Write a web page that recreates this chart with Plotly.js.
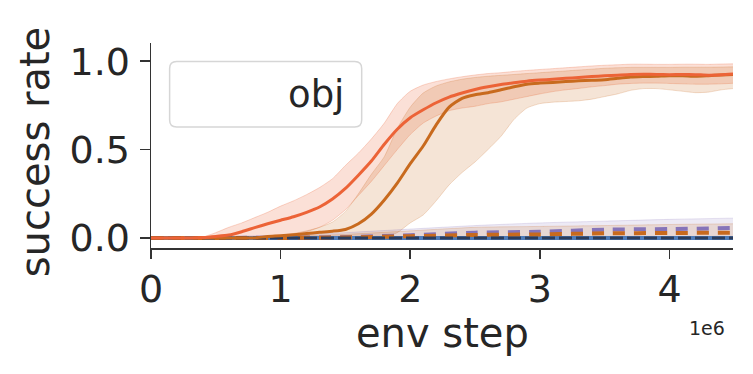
<!DOCTYPE html>
<html>
<head>
<meta charset="utf-8">
<script src="https://cdn.plot.ly/plotly-3.0.1.min.js"></script>
<style>
  body { margin: 0; background: #fff; }
  #chart { width: 753px; height: 374px; }
</style>
</head>
<body>
<div id="chart"></div>
<script>
// env steps in units of 1e6
const steps = [0, 0.1, 0.2, 0.3, 0.4, 0.5, 0.6, 0.7, 0.8, 0.9,
    1.0, 1.1, 1.2, 1.3, 1.4, 1.5, 1.6, 1.7, 1.8, 1.9,
    2.0, 2.1, 2.2, 2.3, 2.4, 2.5, 2.6, 2.7, 2.8, 2.9,
    3.0, 3.1, 3.2, 3.3, 3.4, 3.5, 3.6, 3.7, 3.8, 3.9,
    4.0, 4.1, 4.2, 4.3, 4.4, 4.49];

const redMean = [0, 0, 0, 0, 0.002, 0.008, 0.016, 0.035, 0.058, 0.08,
    0.1, 0.12, 0.145, 0.175, 0.22, 0.28, 0.355, 0.435, 0.53, 0.615,
    0.68, 0.725, 0.765, 0.797, 0.82, 0.84, 0.855, 0.868, 0.878, 0.887,
    0.893, 0.898, 0.903, 0.908, 0.913, 0.917, 0.921, 0.925, 0.926, 0.925,
    0.924, 0.925, 0.924, 0.921, 0.923, 0.927];
const redUpper = [0, 0, 0, 0, 0.005, 0.03, 0.06, 0.085, 0.115, 0.145,
    0.18, 0.21, 0.245, 0.285, 0.335, 0.41, 0.48, 0.56, 0.65, 0.76,
    0.83, 0.865, 0.885, 0.9, 0.912, 0.922, 0.93, 0.935, 0.942, 0.948,
    0.953, 0.958, 0.963, 0.968, 0.973, 0.977, 0.98, 0.983, 0.983, 0.982,
    0.982, 0.983, 0.983, 0.982, 0.984, 0.985];
const redLower = [0, 0, 0, 0, 0, 0, 0, 0, 0, 0,
    0.005, 0.02, 0.035, 0.06, 0.1, 0.16, 0.24, 0.32, 0.41, 0.5,
    0.585, 0.65, 0.69, 0.72, 0.735, 0.745, 0.76, 0.77, 0.785, 0.8,
    0.815, 0.828, 0.838, 0.846, 0.855, 0.862, 0.87, 0.874, 0.876, 0.876,
    0.874, 0.872, 0.87, 0.87, 0.872, 0.875];

const orangeMean = [0, 0, 0, 0, 0, 0, 0, 0, 0, 0.008,
    0.012, 0.018, 0.025, 0.032, 0.038, 0.048, 0.08, 0.135, 0.215, 0.31,
    0.42, 0.52, 0.64, 0.74, 0.79, 0.81, 0.822, 0.838, 0.855, 0.87,
    0.876, 0.88, 0.885, 0.889, 0.892, 0.895, 0.903, 0.91, 0.913, 0.915,
    0.918, 0.918, 0.915, 0.918, 0.922, 0.925];
const orangeUpper = [0, 0, 0, 0, 0, 0, 0, 0, 0.003, 0.008,
    0.015, 0.025, 0.04, 0.06, 0.09, 0.15, 0.25, 0.36, 0.46, 0.62,
    0.74, 0.82, 0.86, 0.883, 0.898, 0.908, 0.915, 0.92, 0.925, 0.93,
    0.935, 0.94, 0.945, 0.95, 0.955, 0.96, 0.963, 0.965, 0.965, 0.965,
    0.965, 0.966, 0.966, 0.966, 0.967, 0.968];
const orangeLower = [0, 0, 0, 0, 0, 0, 0, 0, 0, 0,
    0, 0, 0, 0, 0, 0, 0, 0, 0.005, 0.03,
    0.085, 0.13, 0.21, 0.3, 0.37, 0.43, 0.5, 0.575, 0.67, 0.735,
    0.76, 0.768, 0.772, 0.776, 0.785, 0.8, 0.815, 0.835, 0.845, 0.845,
    0.838, 0.83, 0.822, 0.825, 0.838, 0.845];

const dashSteps = [0, 0.5, 1.0, 1.5, 2.0, 2.5, 3.0, 3.5, 4.0, 4.49];
const purpleMean = [0, 0, 0.001, 0.005, 0.015, 0.03, 0.035, 0.047, 0.05, 0.056];
const purpleUpper = [0.005, 0.008, 0.015, 0.03, 0.05, 0.07, 0.085, 0.095, 0.105, 0.112];
const purpleLower = [0, 0, 0, 0, 0, 0, 0, 0.003, 0.005, 0.005];
const oDashMean = [0, 0, 0, 0.003, 0.01, 0.017, 0.02, 0.026, 0.028, 0.03];
const oDashUpper = [0.003, 0.005, 0.01, 0.02, 0.04, 0.06, 0.065, 0.07, 0.076, 0.08];
const oDashLower = [0, 0, 0, 0, 0, 0, 0, 0, 0, 0];

const flatSteps = [0, 4.49];
const blueMean = [0, 0];
const navyMean = [0, 0];

const RED = '#ec6337';
const ORANGE = '#c86a1e';
const PURPLE = '#8674b9';
const BLUE = '#4f7cb9';
const NAVY = '#2c3d5c';

function band(x, lo, hi, fillcolor, edge) {
    const lower = {
        x: x, y: lo, type: 'scatter', mode: 'lines',
        line: { color: edge, width: 1, shape: 'spline', smoothing: 0.6 },
        hoverinfo: 'skip', showlegend: false,
    };
    const upper = {
        x: x, y: hi, type: 'scatter', mode: 'lines',
        fill: 'tonexty', fillcolor: fillcolor,
        line: { color: edge, width: 1, shape: 'spline', smoothing: 0.6 },
        hoverinfo: 'skip', showlegend: false,
    };
    return [lower, upper];
}

function line(x, y, color, width, dash) {
    return {
        x: x, y: y, type: 'scatter', mode: 'lines',
        line: { color: color, width: width, dash: dash || 'solid', shape: 'spline', smoothing: 0.6 },
        showlegend: false,
    };
}

const traces = [
    ...band(steps, redLower, redUpper, 'rgba(236,99,55,0.2)', 'rgba(236,99,55,0.25)'),
    ...band(steps, orangeLower, orangeUpper, 'rgba(200,106,30,0.18)', 'rgba(200,106,30,0.22)'),
    ...band(dashSteps, purpleLower, purpleUpper, 'rgba(134,116,185,0.15)', 'rgba(134,116,185,0.2)'),
    ...band(dashSteps, oDashLower, oDashUpper, 'rgba(200,106,30,0.15)', 'rgba(200,106,30,0.2)'),
    line(flatSteps, blueMean, BLUE, 4),
    line(dashSteps, purpleMean, PURPLE, 4, '12px,9px'),
    line(dashSteps, oDashMean, ORANGE, 4, '12px,9px'),
    line(flatSteps, navyMean, NAVY, 3, '13px,4px'),
    line(steps, orangeMean, ORANGE, 3),
    line(steps, redMean, RED, 3),
];

// rounded legend frame (paper coords)
const lx0 = 0.032, lx1 = 0.362, ly0 = 0.59, ly1 = 0.91, rx = 0.012, ry = 0.034;
const legendPath = 'M' + (lx0 + rx) + ',' + ly1 + ' L' + (lx1 - rx) + ',' + ly1 +
    ' Q' + lx1 + ',' + ly1 + ' ' + lx1 + ',' + (ly1 - ry) +
    ' L' + lx1 + ',' + (ly0 + ry) + ' Q' + lx1 + ',' + ly0 + ' ' + (lx1 - rx) + ',' + ly0 +
    ' L' + (lx0 + rx) + ',' + ly0 + ' Q' + lx0 + ',' + ly0 + ' ' + lx0 + ',' + (ly0 + ry) +
    ' L' + lx0 + ',' + (ly1 - ry) + ' Q' + lx0 + ',' + ly1 + ' ' + (lx0 + rx) + ',' + ly1 + ' Z';

const TXT = '#262626';
const FONT = 'DejaVu Sans';

const layout = {
    width: 753,
    height: 374,
    margin: { l: 151, r: 20, t: 43, b: 126 },
    paper_bgcolor: '#fff',
    plot_bgcolor: '#fff',
    font: { family: FONT, color: TXT },
    showlegend: false,
    xaxis: {
        range: [0, 4.49],
        tickvals: [0, 1, 2, 3, 4],
        ticktext: ['0', '1', '2', '3', '4'],
        ticks: 'outside', ticklen: 9, tickwidth: 1.5, tickcolor: '#333',
        ticklabelstandoff: -2,
        showline: true, linecolor: '#333', linewidth: 1.5,
        showgrid: false, zeroline: false,
        tickfont: { size: 38, family: FONT, color: TXT },
    },
    yaxis: {
        range: [-0.057, 1.103],
        tickvals: [0, 0.5, 1.0],
        ticktext: ['0.0', '0.5', '1.0'],
        ticks: 'outside', ticklen: 10, tickwidth: 1.5, tickcolor: '#333',
        ticklabelstandoff: 2,
        showline: true, linecolor: '#333', linewidth: 1.5,
        showgrid: false, zeroline: false,
        tickfont: { size: 38, family: FONT, color: TXT },
    },
    shapes: [{
        type: 'path', xref: 'paper', yref: 'paper', path: legendPath,
        line: { color: '#d6d6d6', width: 1.5 }, fillcolor: 'rgba(255,255,255,0.8)', layer: 'above',
    }],
    annotations: [
        {
            text: 'env step', xref: 'paper', yref: 'paper', x: 0.5, y: -0.415,
            xanchor: 'center', yanchor: 'middle', showarrow: false,
            font: { size: 40, family: FONT, color: TXT },
        },
        {
            text: 'success rate', xref: 'paper', yref: 'paper', x: -0.198, y: 0.466,
            xanchor: 'center', yanchor: 'middle', showarrow: false, textangle: -90,
            font: { size: 40, family: FONT, color: TXT },
        },
        {
            text: 'obj', xref: 'paper', yref: 'paper', x: 0.335, y: 0.75,
            xanchor: 'right', yanchor: 'middle', showarrow: false,
            font: { size: 37, family: FONT, color: TXT },
        },
        {
            text: '1e6', xref: 'paper', yref: 'paper', x: 0.99, y: -0.39,
            xanchor: 'right', yanchor: 'middle', showarrow: false,
            font: { size: 19, family: FONT, color: TXT },
        },
    ],
};

Plotly.newPlot('chart', traces, layout, { displayModeBar: false, staticPlot: true });
</script>
</body>
</html>
